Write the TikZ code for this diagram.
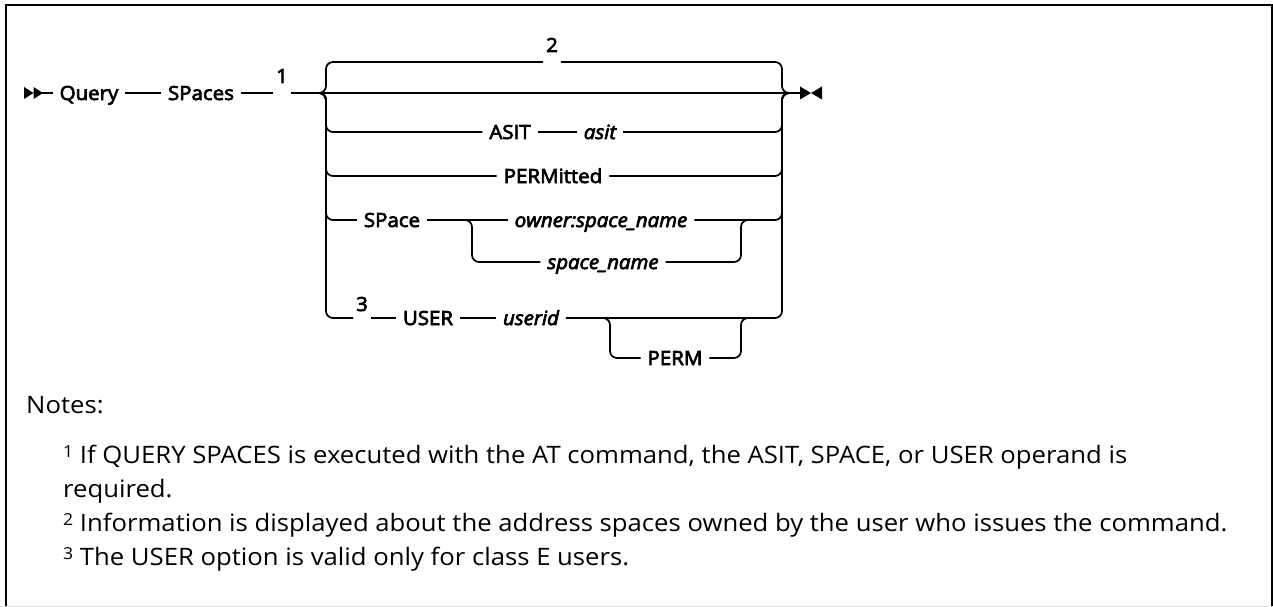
\documentclass[tikz,border=0pt]{standalone}
\usepackage{fontspec}
\setmainfont{Open Sans}[FakeStretch=1.07]
\newfontfamily\dg{Open Sans}[FakeBold=3.5, FakeStretch=1.05]
\newcommand{\nsup}[1]{\raisebox{5.5pt}{\fontsize{16.5}{16.5}\selectfont #1}}
\begin{document}
\begin{tikzpicture}[x=1pt,y=-1pt,
  ln/.style={line width=1.7pt, rounded corners=7pt},
  kw/.style={font=\dg\fontsize{19.5}{23}\selectfont, text height=14pt, text depth=0pt, inner sep=0pt, outer xsep=7pt, anchor=center},
  var/.style={kw, font=\dg\itshape\fontsize{19.5}{23}\selectfont},
  fn/.style={font=\dg\fontsize{19.5}{23}\selectfont, inner sep=0pt, outer xsep=3pt, text height=14pt, text depth=0pt},
  note/.style={font=\fontsize{24}{34}\selectfont, anchor=base west, inner sep=0pt},
  mk/.style={fill=black, draw=none}]
\useasboundingbox (0,0) rectangle (1273,607);
% frame
\draw[line width=2pt, line join=miter] (6,607) -- (6,5) -- (1272,5) -- (1272,607);
\draw[black!12, line width=1pt] (0,606.5) -- (1273,606.5);
% reference rows
\coordinate (main) at (0,93);
\coordinate (top) at (0,62);
\coordinate (urow) at (0,318);
\coordinate (startm) at (42,93);
\coordinate (jl) at (316,93);
\coordinate (jr) at (792,93);
\coordinate (endm) at (800,93);
\coordinate (sj) at (462,220);
\coordinate (pj) at (600,318);
% markers
\fill[mk] (24,87) -- (33.5,93) -- (24,99) -- cycle;
\fill[mk] (33.5,87) -- (43,93) -- (33.5,99) -- cycle;
\fill[mk] (800,86.5) -- (811,93) -- (800,99.5) -- cycle;
\fill[mk] (822,86.5) -- (811,93) -- (822,99.5) -- cycle;
% nodes
\node[kw] (query) at (89,93) {Query};
\node[kw] (spaces) at (201,93) {SPaces};
\node[fn] (f1) at (282,76) {1};
\node[fn] (f2) at (552,45) {2};
\node[kw] (asitk) at (510,132) {ASIT};
\node[var] (asitv) at (600,132) {asit};
\node[kw] (permd) at (553,176) {PERMitted};
\node[kw] (spacek) at (392,220) {SPace};
\node[var] (owner) at (601,220) {owner:space\_name};
\node[var] (sname) at (603,262) {space\_name};
\node[fn] (f3) at (362,304) {3};
\node[kw] (user) at (428,318) {USER};
\node[var] (userid) at (531,318) {userid};
\node[kw] (perm) at (675,358) {PERM};
% main line
\draw[ln] (startm) -- (query);
\draw[ln] (query) -- (spaces);
\draw[ln] (spaces) -- (f1.west |- main);
\draw[ln] (f1.east |- main) -- (endm);
% top branch
\draw[ln] (jl) -- (326,93) -- (326,62) -- (f2.west |- top);
\draw[ln] (f2.east |- top) -- (782,62) -- (782,93) -- (jr);
% ASIT
\draw[ln] (jl) -- (326,93) -- (326,132) -- (asitk);
\draw[ln] (asitk) -- (asitv);
\draw[ln] (asitv) -- (782,132) -- (782,93) -- (jr);
% PERMitted
\draw[ln] (jl) -- (326,93) -- (326,176) -- (permd);
\draw[ln] (permd) -- (782,176) -- (782,93) -- (jr);
% SPace
\draw[ln] (jl) -- (326,93) -- (326,220) -- (spacek);
\draw[ln] (spacek) -- (owner);
\draw[ln] (sj) -- (472,220) -- (472,262) -- (sname);
\draw[ln] (sname) -- (741,262) -- (741,220) -- (751,220);
\draw[ln] (owner) -- (782,220) -- (782,93) -- (jr);
% USER
\draw[ln] (jl) -- (326,93) -- (326,318) -- (f3.west |- urow);
\draw[ln] (f3.east |- urow) -- (user);
\draw[ln] (user) -- (userid);
\draw[ln] (userid) -- (782,318) -- (782,93) -- (jr);
\draw[ln] (pj) -- (610,318) -- (610,358) -- (perm);
\draw[ln] (perm) -- (741,358) -- (741,318) -- (751,318);
% notes
\node[note] (notes) at (26,413) {Notes:};
\node[note] (n1a) at (63,463) {\nsup{1} If QUERY SPACES is executed with the AT command, the ASIT, SPACE, or USER operand is};
\node[note] (n1b) at (63,497) {required.};
\node[note] (n2) at (63,531) {\nsup{2} Information is displayed about the address spaces owned by the user who issues the command.};
\node[note] (n3) at (63,565) {\nsup{3} The USER option is valid only for class E users.};
\end{tikzpicture}
\end{document}
